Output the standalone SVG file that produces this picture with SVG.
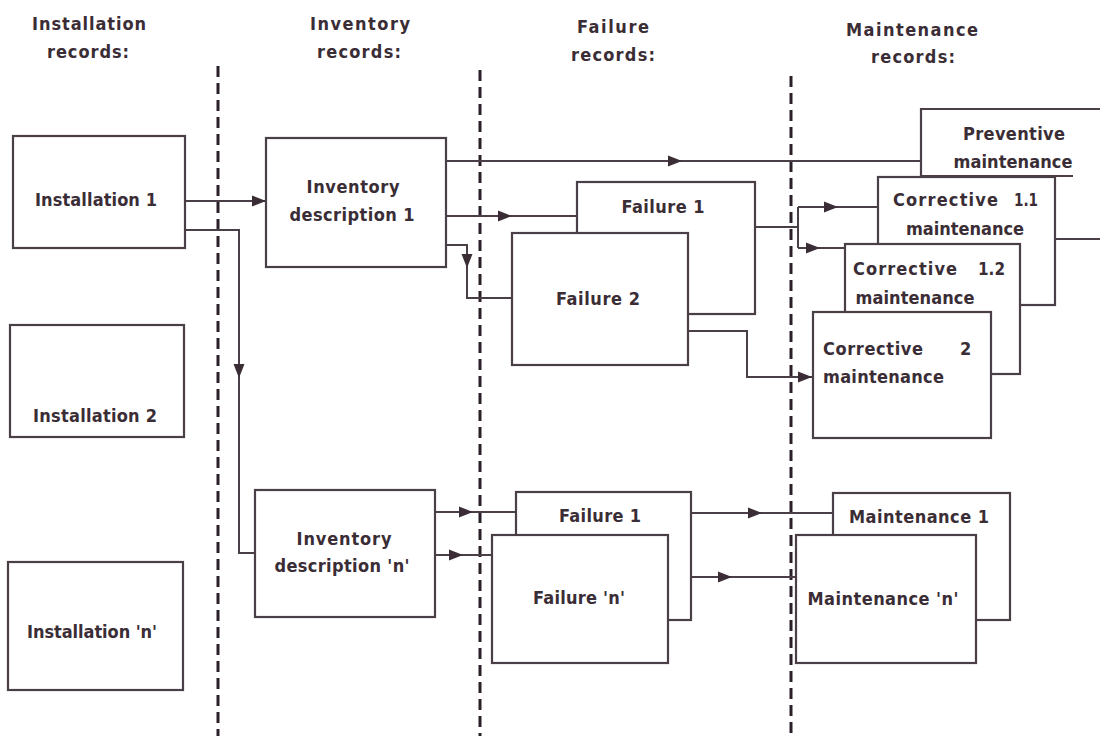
<svg xmlns="http://www.w3.org/2000/svg" xmlns:xlink="http://www.w3.org/1999/xlink" width="1100" height="736" viewBox="0 0 1100 736">
  <defs>
    <style>
      .box{fill:#fff;stroke:#4a3e47;stroke-width:2.2}
      .ln{fill:none;stroke:#4a3e47;stroke-width:2}
      .dash{fill:none;stroke:#2b2029;stroke-width:3;stroke-dasharray:11 6}
      .t{font-family:'Liberation Sans Narrow','DejaVu Sans Condensed','Liberation Sans',sans-serif;font-weight:bold;font-size:18px;fill:#3a2d36;text-anchor:middle}
      .ts{text-anchor:start}
      .ah{fill:#3a2d36}
    </style>
    <!-- arrowheads: tip at the origin -->
    <path id="arR" d="M0,0 L-14,-5.5 L-14,5.5 Z"/>
    <path id="arD" d="M0,0 L-5.5,-14 L5.5,-14 Z"/>
  </defs>
  <rect width="1100" height="736" fill="#fff"/>

  <!-- column headers -->
  <g id="headers">
    <text class="t" x="89" y="30" textLength="114">Installation</text>
    <text class="t" x="88" y="58" textLength="82">records:</text>
    <text class="t" x="360" y="30" textLength="100">Inventory</text>
    <text class="t" x="359" y="58" textLength="84">records:</text>
    <text class="t" x="613" y="33" textLength="72">Failure</text>
    <text class="t" x="613" y="61" textLength="84">records:</text>
    <text class="t" x="912" y="36" textLength="132">Maintenance</text>
    <text class="t" x="913" y="63" textLength="84">records:</text>
  </g>

  <!-- column separators -->
  <g id="separators">
    <line class="dash" x1="218" y1="66" x2="218" y2="736"/>
    <line class="dash" x1="480" y1="70" x2="480" y2="736"/>
    <line class="dash" x1="791" y1="76" x2="791" y2="736"/>
  </g>

  <!-- connectors -->
  <g id="connectors">
    <path class="ln" d="M185,201 H266"/>
    <use xlink:href="#arR" class="ah" x="266" y="201"/>
    <path class="ln" d="M185,230 H239 V553 H255"/>
    <use xlink:href="#arD" class="ah" x="239" y="378"/>
    <path class="ln" d="M446,161 H921"/>
    <use xlink:href="#arR" class="ah" x="682" y="161"/>
    <path class="ln" d="M446,216 H577"/>
    <use xlink:href="#arR" class="ah" x="512" y="216"/>
    <path class="ln" d="M446,245 H467 V298 H512"/>
    <use xlink:href="#arD" class="ah" x="467" y="268"/>
    <path class="ln" d="M755,227 H798 M798,207 V248 M798,207 H878 M798,248 H845"/>
    <use xlink:href="#arR" class="ah" x="838" y="207"/>
    <use xlink:href="#arR" class="ah" x="820" y="248"/>
    <path class="ln" d="M688,331 H747 V377 H813"/>
    <use xlink:href="#arR" class="ah" x="812" y="377"/>
    <path class="ln" d="M435,512 H516"/>
    <use xlink:href="#arR" class="ah" x="473" y="512"/>
    <path class="ln" d="M435,555 H492"/>
    <use xlink:href="#arR" class="ah" x="463" y="555"/>
    <path class="ln" d="M691,513 H833"/>
    <use xlink:href="#arR" class="ah" x="762" y="513"/>
    <path class="ln" d="M668,577 H796"/>
    <use xlink:href="#arR" class="ah" x="732" y="577"/>
    <path class="ln" d="M1055,239 H1100"/>
  </g>

  <!-- installation records -->
  <g id="installation-1">
    <rect class="box" x="13" y="136" width="172" height="112"/>
    <text class="t" x="96" y="206" textLength="122">Installation 1</text>
  </g>
  <g id="installation-2">
    <rect class="box" x="10" y="325" width="174" height="112"/>
    <text class="t" x="95" y="422" textLength="124">Installation 2</text>
  </g>
  <g id="installation-n">
    <rect class="box" x="8" y="562" width="175" height="128"/>
    <text class="t" x="92" y="638" textLength="130">Installation 'n'</text>
  </g>

  <!-- inventory records -->
  <g id="inventory-1">
    <rect class="box" x="266" y="138" width="180" height="129"/>
    <text class="t" x="353" y="193" textLength="93">Inventory</text>
    <text class="t" x="352" y="221" textLength="125">description 1</text>
  </g>
  <g id="inventory-n">
    <rect class="box" x="255" y="490" width="180" height="127"/>
    <text class="t" x="344" y="545" textLength="95">Inventory</text>
    <text class="t" x="342" y="572" textLength="135">description 'n'</text>
  </g>

  <!-- failure records -->
  <g id="failure-1">
    <rect class="box" x="577" y="182" width="178" height="132"/>
    <text class="t" x="663" y="213" textLength="83">Failure 1</text>
  </g>
  <g id="failure-2">
    <rect class="box" x="512" y="233" width="176" height="132"/>
    <text class="t" x="598" y="305" textLength="84">Failure 2</text>
  </g>
  <g id="failure-1-n">
    <rect class="box" x="516" y="492" width="175" height="128"/>
    <text class="t" x="600" y="522" textLength="82">Failure 1</text>
  </g>
  <g id="failure-n">
    <rect class="box" x="492" y="535" width="176" height="128"/>
    <text class="t" x="579" y="604" textLength="92">Failure 'n'</text>
  </g>

  <!-- maintenance records -->
  <g id="preventive">
    <path class="box" d="M1102,109 H921 V176 H1073"/>
    <text class="t" x="1014" y="140" textLength="102">Preventive</text>
    <text class="t" x="1013" y="168" textLength="119">maintenance</text>
  </g>
  <g id="corrective-1-1">
    <rect class="box" x="878" y="177" width="177" height="128"/>
    <text class="t ts" y="206"><tspan x="893" textLength="105">Corrective</tspan><tspan x="1014" textLength="24" lengthAdjust="spacingAndGlyphs">1.1</tspan></text>
    <text class="t" x="965" y="235" textLength="118">maintenance</text>
  </g>
  <g id="corrective-1-2">
    <rect class="box" x="845" y="244" width="175" height="130"/>
    <text class="t ts" y="275"><tspan x="853" textLength="104">Corrective</tspan><tspan x="978" textLength="27" lengthAdjust="spacingAndGlyphs">1.2</tspan></text>
    <text class="t" x="915" y="304" textLength="119">maintenance</text>
  </g>
  <g id="corrective-2">
    <rect class="box" x="813" y="312" width="178" height="126"/>
    <text class="t ts" y="355"><tspan x="823" textLength="100">Corrective</tspan><tspan x="960">2</tspan></text>
    <text class="t ts" x="823" y="383" textLength="121">maintenance</text>
  </g>
  <g id="maintenance-1">
    <rect class="box" x="833" y="493" width="177" height="127"/>
    <text class="t" x="919" y="523" textLength="140">Maintenance 1</text>
  </g>
  <g id="maintenance-n">
    <rect class="box" x="796" y="535" width="180" height="128"/>
    <text class="t" x="883" y="605" textLength="151">Maintenance 'n'</text>
  </g>
</svg>
